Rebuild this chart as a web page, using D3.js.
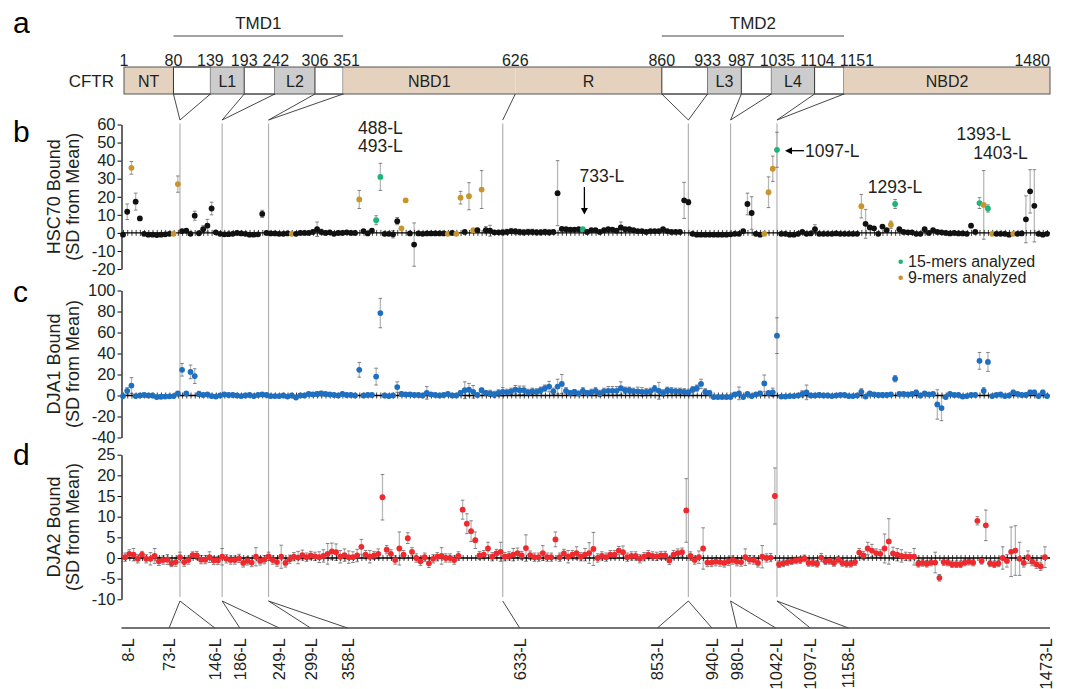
<!DOCTYPE html>
<html>
<head>
<meta charset="utf-8">
<script src="https://cdn.jsdelivr.net/npm/d3@7"></script>
<style>
  body { margin: 0; background: #fff; }
  svg { font-family: "Liberation Sans", Arial, sans-serif; }
</style>
</head>
<body>
<svg id="chart" width="1084" height="689"></svg>
<script>
// ---------- CFTR domain map ----------
const boundaries = [1, 80, 139, 193, 242, 306, 351, 626, 860, 933, 987, 1035, 1104, 1151, 1480];
const domainNames = ["NT", "", "L1", "", "L2", "", "NBD1", "R", "", "L3", "", "L4", "", "NBD2"];
const domainKinds = ["cyto", "tm", "loop", "tm", "loop", "tm", "cyto", "cyto", "tm", "loop", "tm", "loop", "tm", "cyto"];
const tmdNames = ["TMD1", "TMD2"];
const tmdSpans = [[80, 351], [860, 1151]];

// peptide index where each domain boundary falls in the peptide scans
const sepIdx = [13.5, 23.5, 34.5, 90, 134, 144, 155];
const topLinks = [[80, 139], [193, 242], [306, 351], [626], [860, 933], [987, 1035], [1104, 1151]];
const bottomPeptides = [8, 73, 146, 186, 249, 299, 358, 633, 853, 940, 980, 1042, 1097, 1158, 1473];
const bottomLinks = [[73, 146], [186, 249], [299, 358], [633], [853, 940], [980, 1042], [1097, 1158]];

// ---------- HSC70 (panel b) ----------
const hsc70 = [
  -1, 11.7, 36, 17.3, 8, -0.5, -1, -1, -1.2, -1, -0.8, -0.5, -0.5, 27, 1, 1.3, -0.5, 9.5, -0.2, 2,
  4, 13.5, 0.3, -0.5, -0.8, -0.7, -0.5, 0, -0.3, -0.5, -1, -1, -0.8, 10.5, 0, -0.3, -0.3, -0.5, -0.5, -0.3,
  -0.5, -0.5, 0, 0, 0, 0.5, 2, 0.5, 0, 0.3, -0.5, 0, 0, 0.3, 0, 0, 18.5, 1, -0.3, 1.2,
  7, 31, -0.5, -0.5, -0.8, 6.5, 2.5, 18, -0.3, -6.5, -0.3, -0.5, -0.3, -0.3, -0.3, -0.3, -0.3, -0.5, 0, -0.5,
  19.5, 0.5, 20.3, 1.5, 1.5, 24, 1.5, 1.2, 0.3, 0.3, 0.3, 0.5, 1, 0.8, 0.5, 0.3, 0.5, 0.5, 0.3, 0.3,
  0.5, 0.3, 0.5, 22, 2.2, 2, 1.8, 1.8, 2, 2, 0.5, 1.5, 1.5, 0.5, 1.5, 2, 1.8, 1.2, 3, 2,
  2, 1.5, 1, 1, 0.5, 1, 1, 1, 2, 1, 0.5, 0.5, 0.5, 18, 17, -0.5, -1, -1, -1, -1,
  -1, -1, -1, -1, -0.8, -0.5, -0.5, 1, 16, 11, -0.5, -1, -0.5, 22.5, 35.5, 46, -0.5, -0.5, -1, -1,
  -0.5, 0.5, -0.5, -0.3, 2, -0.5, -0.5, -0.5, -0.5, -0.3, -0.5, -0.5, -0.5, -0.5, -0.5, 14.8, 5, 3, 2.5, -0.5,
  3.5, 1.5, 4.5, 16, 2, 0.5, 0.3, 0.3, -0.5, -0.5, 2, 0, 1.5, 0.5, 0.3, 0, -0.3, 0, -0.3, -0.3,
  -0.5, 4, 0.5, 16.5, 15.5, 13.5, -0.5, -0.5, -0.5, -0.5, -1, -0.5, -0.5, -0.3, 7.5, 23, 15, -0.5, -1, -0.5
];
const hsc70Err = [
  0.8, 4.3, 3.5, 4.7, 1, 0.8, 0.8, 0.8, 0.8, 0.8, 0.8, 0.8, 0.8, 4.5, 0.8, 0.8, 0.8, 2.5, 0.8, 2,
  3.5, 3.5, 0.8, 0.8, 0.8, 0.8, 0.8, 0.8, 0.8, 0.8, 0.8, 0.8, 0.8, 2, 0.8, 0.8, 0.8, 0.8, 0.8, 0.8,
  0.8, 0.8, 0.8, 0.8, 0.8, 1, 4, 1.5, 1, 0.8, 0.8, 1, 1, 0.8, 0.8, 1, 5, 0.8, 0.8, 1,
  2.5, 7.5, 0.8, 0.8, 2, 2, 0.8, 1, 0.8, 12, 0.8, 0.8, 0.8, 0.8, 0.8, 0.8, 0.8, 0.8, 0.8, 0.8,
  3.5, 0.8, 7.5, 0.8, 0.8, 10.5, 2, 3, 1, 1, 1.5, 1.5, 1.5, 1.5, 1.5, 1.5, 1.5, 1.5, 1.5, 1.5,
  1.5, 1.5, 1, 18, 0.8, 0.8, 0.8, 0.8, 0.8, 0.8, 0.8, 0.8, 0.8, 0.8, 0.8, 0.8, 0.8, 0.8, 3, 0.8,
  0.8, 0.8, 0.8, 0.8, 0.8, 0.8, 0.8, 0.8, 1, 0.8, 0.8, 0.8, 0.8, 10, 1.5, 0.8, 0.8, 0.8, 0.8, 0.8,
  0.8, 0.8, 0.8, 0.8, 0.8, 0.8, 0.8, 0.8, 6, 9, 0.8, 0.8, 0.8, 8.5, 7, 9.7, 0.8, 0.8, 0.8, 0.8,
  0.8, 0.8, 0.8, 0.8, 2.5, 0.8, 0.8, 0.8, 0.8, 0.8, 0.8, 0.8, 0.8, 0.8, 0.8, 6.5, 8, 1, 1, 0.8,
  1, 0.8, 2, 2.5, 0.8, 0.8, 0.8, 0.8, 0.8, 0.8, 0.8, 0.8, 0.8, 0.8, 0.8, 0.8, 0.8, 0.8, 0.8, 0.8,
  0.8, 1, 0.8, 3, 19, 2, 0.8, 0.8, 0.8, 0.8, 0.8, 0.8, 0.8, 0.8, 13, 12, 20, 0.8, 0.8, 0.8
];
const green15 = [60, 61, 109, 155, 183, 203, 205];
const gold9 = [2, 12, 13, 40, 56, 66, 67, 77, 79, 80, 82, 83, 85, 152, 153, 154, 175, 182, 204, 206, 211];

// ---------- DJA1 (panel c) ----------
const dja1 = [
  -0.5, 4.5, 9.5, -0.5, 0, 0.5, 0, 0, -1.5, -1.2, -1, -0.8, -0.5, 2, 24.5, 2, 22.5, 18.5, 1.5, 0.5,
  1, -0.5, -1, 0, 1, 0.5, 0.5, 0, -0.5, 0, 0.5, -0.5, 0.5, 1, 0.5, -0.5, -0.5, -0.5, 0, -1,
  0, -2, 0, 0, 1.5, 1, 1.5, 2, 1.5, 1, 0.5, 0, 1.5, 0.5, 0.5, 0, 24.5, 0, 0.5, 0.5,
  18, 78.5, 0, -0.5, 0, 8, 1.5, 1, 1, 0.5, 0.5, 0, 2.5, 1, 0.5, 0, 0.5, 1.5, 0, 0,
  2.5, 5, 5.5, 3.5, 0.5, 5, 2.5, 2, 1, 2.5, 3.5, 3, 4, 5.5, 5, 5, 3, 4, 3.5, 5,
  7, 8.5, 4, 8.5, 11, 4.5, 2.5, 3.5, 2, 4.5, 2.5, 3, 4.5, 2, 4, 4.5, 4.5, 4.5, 7, 5,
  5, 4, 4, 3.5, 3.5, 4, 6.5, 4.5, 2.5, 5, 4.5, 4, 4, 3.5, 3, 5.5, 7, 11, 3.5, 2.5,
  -1.5, -1.5, -1.5, -1.5, -1.5, 1, 2, -1.5, 1.5, -0.5, 1, 2, 11.5, 2.5, 3, 57, -1, -1, -0.5, -0.5,
  0, 1.5, 3, 0, 0, 0.5, 0, 0, -0.5, 0, 0.5, 0.5, -0.5, -0.5, 0, 3.5, -1, 2, 1, 0.5,
  0.5, 0.5, 1, 16, 1.5, 1.5, 1, 1.5, 3, 0, 2, 1, 1.5, -8.5, -12, -1.5, 1.5, 0.5, 0.5, -1,
  -0.5, 0.5, 0.5, 33, 4.5, 32, -0.5, 0.5, 1, -0.5, 0, 3, 1.5, 0.5, 0.5, 3, 3, -0.5, 3, -0.5
];
const dja1Err = [
  1, 3, 7.5, 1.5, 1.5, 1.5, 1.5, 1.5, 1.5, 1.5, 1.5, 1.5, 1.5, 1.5, 6, 1.5, 6.5, 7, 2.5, 1.5,
  1.5, 1.5, 1.5, 1.5, 1.5, 1.5, 1.5, 1.5, 1.5, 1.5, 1.5, 1.5, 1.5, 1.5, 1.5, 1.5, 1.5, 1.5, 1.5, 1.5,
  1.5, 1.5, 1.5, 1.5, 1.5, 1.5, 2, 2, 1.5, 1.5, 1.5, 1.5, 1.5, 1.5, 1.5, 1.5, 7, 1.5, 1.5, 1.5,
  8, 14, 1.5, 1.5, 1.5, 5, 2, 1.5, 1.5, 1.5, 1.5, 1.5, 6, 1.5, 1.5, 1.5, 1.5, 1.5, 1.5, 1.5,
  2, 8, 6, 6, 1.5, 2, 2, 3, 3, 3, 4, 3, 3, 4, 4, 4, 3, 3, 3, 3,
  3, 5, 3, 7, 9, 3, 2, 2, 2, 3, 2, 3, 3, 3, 3, 4, 4, 4, 6, 3,
  3, 3, 4, 4, 3, 3, 3, 8, 3, 3, 3, 3, 3, 3, 3, 3, 3, 4.5, 3, 2,
  1, 1, 1, 1, 1, 1.5, 6, 1, 1.5, 1.5, 1.5, 2, 8, 1.5, 4, 17, 1, 1, 1, 1,
  1, 3, 7, 1, 1, 2, 1, 1, 1, 1, 1, 1, 1, 1, 1, 3, 1.5, 1.5, 1.5, 1.5,
  2, 1.5, 1.5, 3, 1.5, 1.5, 1.5, 1.5, 2, 1.5, 1.5, 1.5, 1.5, 14, 12, 1.5, 1.5, 1.5, 1.5, 1.5,
  1.5, 1.5, 1.5, 8, 3, 9, 1.5, 1.5, 1.5, 1.5, 1.5, 2, 1.5, 1.5, 1.5, 2, 2, 1.5, 2, 1.5
];

// ---------- DJA2 (panel d) ----------
const dja2 = [
  0.2, 1, 0.8, -0.2, 0.8, -0.2, -0.2, 0.5, -0.8, -0.5, -0.4, -1.3, -1, 0.2, -1, -0.5, 0.7, 0.6, -0.4, -0.4,
  0.2, -0.6, -0.6, 0.3, -0.2, -0.5, -0.5, -0.1, -1.2, -0.7, -1.1, 0.3, -0.7, -0.4, 0.4, -0.5, -1, 0.3, -1.2, -0.3,
  0.3, 0.1, 0.7, 0.2, 0.6, 0.4, 0.2, 0.5, 1, 1.6, 1.4, 0.3, 0.7, 0.2, 0.2, 0.6, 2.7, 0.8, 0.3, 0.6,
  1, 14.7, 2, 1, -0.5, 2.3, 0.8, 4.8, 1.5, 0, -0.8, 0.2, -1.3, -0.2, 0.3, 0.5, 0, 0, -0.5, 0.5,
  11.7, 8.3, 6.5, 4.3, 0.6, 0.8, 2.3, 0.3, 1.1, 1.5, 0.3, 0.5, 0.8, 1.2, 0.6, 2.4, 0.7, 0.2, 0.2, 1.2,
  0.2, 0.2, 4.5, 0.2, 1.1, 0.3, 0.8, 1.2, 0.3, 0.8, 1.2, 2.2, 0, 0.5, 0.2, 0.8, 0.8, 1.8, 1.4, 0.2,
  0.5, 0.5, -0.2, 0.3, 0.8, 0.5, 0.4, 0.6, 0.6, -0.6, 0.8, 1.2, 1.4, 11.5, 0.5, -0.5, 0.2, 2.3, -1.1, -1.1,
  -0.9, -1, -1.2, -0.8, -0.5, -0.9, -1, 0.2, -0.4, -0.5, -1.2, 0.3, 0, 0.1, 15, -1.5, -1.3, -1, -0.8, -0.6,
  -0.5, -0.1, -1.2, -1.2, -1.4, 0.1, -0.8, -0.7, -1.2, -0.4, -1.2, -1.4, -1.4, -1, 1.3, 0.6, 2.3, 1.8, 1.2, 1,
  2.3, 4, 1.1, 0.8, 0.5, 0.4, 0.3, 0.3, -1.4, -1.2, -1.4, -1.1, -1.1, -4.8, -1, -1.1, -1.5, -1.5, -1.5, -1.1,
  -0.9, -1.1, 9, -0.7, 7.9, -1.3, -1.5, -1.3, 0, -0.7, 1.5, 1.8, -0.2, -1.2, 0.2, -0.9, -1.5, -2, 0.2
];
const dja2Err = [
  1, 1, 1.5, 1, 0.8, 1, 1.5, 1.8, 1, 1, 1.2, 0.8, 1, 1.2, 1, 1, 0.8, 1, 1, 1,
  1.3, 1, 1, 2, 1, 1, 1, 1, 1, 1, 1, 2.2, 1, 1, 1, 1, 1, 2.8, 1, 1,
  1, 1.5, 1.2, 1, 1, 1, 1.3, 1.5, 2.5, 2, 2, 1.5, 1.5, 1.5, 1.3, 1.5, 1.8, 1, 1.5, 1,
  1.2, 5.5, 1, 1, 1, 4, 1, 1.3, 1, 1, 1, 1, 1, 1, 1, 2, 1, 1, 1, 1,
  2.3, 2.4, 2.5, 2, 1, 1, 1.5, 1, 1, 2.3, 1, 1, 1.5, 1.2, 1, 3.2, 1, 1, 1, 1.8,
  1, 1, 1.8, 1, 1, 1.5, 1, 1.5, 1, 1.5, 2.5, 4, 1, 1, 1, 1, 1, 1, 1.5, 1,
  1, 1, 1, 1, 1, 1, 1, 1, 1, 1, 1, 1, 1, 7.7, 1, 1, 1.5, 5, 1, 1,
  1, 1, 1, 1, 1, 1, 1, 2, 1, 1, 1, 2.7, 1, 1, 6.8, 0.8, 0.8, 0.8, 0.8, 0.8,
  0.8, 0.8, 0.8, 0.8, 0.8, 1, 0.8, 0.8, 0.8, 0.8, 0.8, 0.8, 0.8, 0.8, 1, 1, 1.5, 1.5, 1, 1,
  3.5, 5.5, 1.5, 1.5, 1.5, 1, 1, 2, 0.8, 0.8, 0.8, 0.8, 2.5, 0.8, 0.8, 0.8, 0.8, 0.8, 0.8, 0.8,
  0.8, 0.8, 1, 0.8, 3.7, 0.8, 0.8, 0.8, 2.7, 1.5, 6, 6, 4, 1, 1.5, 1, 1, 1, 2.5
];

// ---------- layout ----------
const svg = d3.select("#chart");
const ink = "#231f20";
const axisX = 121.5, axisRight = 1050;
const barTop = 67, barBottom = 94;
const sepTop = 123.5, sepBottom = 597;

const x = d3.scaleLinear().domain([0, hsc70.length - 1]).range([123, 1047]);
const xd = d3.scaleLinear().domain([-0.5, dja2.length - 0.5]).range([123, 1047]);
const xRes = d3.scaleLinear().domain([1, 1480]).range([124, 1050]);

const yB = d3.scaleLinear().domain([-20, 60]).range([269, 124.5]);
const yC = d3.scaleLinear().domain([-40, 100]).range([437.5, 290.5]);
const yD = d3.scaleLinear().domain([-10, 25]).range([599.3, 454.7]);

const colKind = { cyto: "#e5d2be", loop: "#cccccc", tm: "#ffffff" };

// panel letters
[["a", 33], ["b", 142], ["c", 302], ["d", 465]].forEach(([t, yy]) => {
  svg.append("text").attr("x", 13).attr("y", yy).attr("font-size", 30)
    .attr("fill", "#000").text(t);
});

// ---------- top domain bar ----------
const segs = domainNames.map((n, i) => ({ name: n, kind: domainKinds[i], start: boundaries[i], end: boundaries[i + 1] }));
const bar = svg.append("g");
bar.selectAll("rect").data(segs).join("rect")
  .attr("x", d => xRes(d.start)).attr("y", barTop)
  .attr("width", d => xRes(d.end) - xRes(d.start)).attr("height", barBottom - barTop)
  .attr("fill", d => colKind[d.kind])
  .attr("stroke", d => d.kind === "tm" ? "#333" : "none").attr("stroke-width", 1);
bar.append("rect").attr("x", xRes(1)).attr("y", barTop)
  .attr("width", xRes(1480) - xRes(1)).attr("height", barBottom - barTop)
  .attr("fill", "none").attr("stroke", "#555").attr("stroke-width", 1);
bar.selectAll("text.dom").data(segs.filter(d => d.name)).join("text")
  .attr("class", "dom").attr("x", d => xRes((d.start + d.end) / 2)).attr("y", 86.5)
  .attr("text-anchor", "middle").attr("font-size", 16).attr("fill", ink).text(d => d.name);
bar.append("text").attr("x", 114).attr("y", 87).attr("text-anchor", "end")
  .attr("font-size", 17).attr("fill", ink).text("CFTR");

// boundary numbers, nudged apart so they don't collide
const numG = bar.append("g");
const nums = numG.selectAll("text").data(boundaries).join("text")
  .attr("y", 65.5).attr("font-size", 16).attr("fill", ink)
  .attr("text-anchor", (d, i) => i === boundaries.length - 1 ? "end" : "middle")
  .attr("x", d => xRes(d)).text(d => d);
let prevRight = -Infinity;
nums.each(function (d, i) {
  if (i === boundaries.length - 1) return;
  const w = this.getComputedTextLength();
  let cx = xRes(d);
  if (cx - w / 2 < prevRight + 5) cx = prevRight + 5 + w / 2;
  d3.select(this).attr("x", cx);
  prevRight = cx + w / 2;
});

// TMD brackets
tmdNames.forEach((n, i) => {
  const [a, b] = tmdSpans[i];
  svg.append("line").attr("x1", xRes(a)).attr("x2", xRes(b)).attr("y1", 36).attr("y2", 36)
    .attr("stroke", "#444").attr("stroke-width", 1);
  svg.append("text").attr("x", (xRes(a) + xRes(b)) / 2).attr("y", 29).attr("text-anchor", "middle")
    .attr("font-size", 17).attr("fill", ink).text(n);
});

// ---------- separators and connector lines ----------
const links = svg.append("g").attr("stroke", "#333").attr("stroke-width", 0.9);
topLinks.forEach((res, k) => res.forEach(r => {
  links.append("line").attr("x1", xRes(r)).attr("y1", barBottom)
    .attr("x2", x(sepIdx[k])).attr("y2", 120);
}));
const bottomLine = 628;
bottomLinks.forEach((res, k) => res.forEach(r => {
  links.append("line").attr("x1", x(sepIdx[k])).attr("y1", 601)
    .attr("x2", xRes(r)).attr("y2", bottomLine);
}));
svg.append("line").attr("x1", axisX).attr("x2", axisRight).attr("y1", bottomLine).attr("y2", bottomLine)
  .attr("stroke", "#444").attr("stroke-width", 1.4);
svg.append("g").selectAll("text").data(bottomPeptides).join("text")
  .attr("transform", d => `translate(${xRes(d) + 6},${bottomLine + 10}) rotate(-90)`)
  .attr("text-anchor", "end").attr("font-size", 16.5).attr("fill", ink)
  .text(d => d + "-L");

svg.append("g").selectAll("line").data(sepIdx).join("line")
  .attr("x1", d => x(d)).attr("x2", d => x(d)).attr("y1", sepTop).attr("y2", sepBottom)
  .attr("stroke", "#b3b3b3").attr("stroke-width", 1.2);

// ---------- panels ----------
function panel(values, errs, xs, y, ticks, colorOf, label) {
  const g = svg.append("g");
  const cy = (y.range()[0] + y.range()[1]) / 2;

  // error bars
  const eb = g.append("g");
  eb.selectAll("line.bar").data(values).join("line").attr("class", "bar")
    .attr("x1", (d, i) => xs(i)).attr("x2", (d, i) => xs(i))
    .attr("y1", (d, i) => y(d + errs[i])).attr("y2", (d, i) => y(d - errs[i]))
    .attr("stroke", "#b8b8b8").attr("stroke-width", 1.3);
  ["up", "dn"].forEach(side => {
    eb.selectAll("line.cap" + side).data(values).join("line").attr("class", "cap" + side)
      .attr("x1", (d, i) => xs(i) - 1.8).attr("x2", (d, i) => xs(i) + 1.8)
      .attr("y1", (d, i) => y(side === "up" ? d + errs[i] : d - errs[i]))
      .attr("y2", (d, i) => y(side === "up" ? d + errs[i] : d - errs[i]))
      .attr("stroke", "#666").attr("stroke-width", 0.8);
  });

  // x axis with a tick for every peptide
  const xa = g.append("g").attr("transform", `translate(0,${y(0)})`)
    .call(d3.axisBottom(xs).tickValues(d3.range(values.length)).tickSize(6).tickFormat(""));
  xa.select(".domain").remove();
  xa.selectAll(".tick line").attr("y1", -3).attr("y2", 3).attr("stroke", "#111").attr("stroke-width", 0.8);
  xa.append("line").attr("x1", axisX).attr("x2", axisRight).attr("stroke", "#000").attr("stroke-width", 1.3);

  // y axis
  const ya = g.append("g").attr("transform", `translate(${axisX},0)`)
    .call(d3.axisLeft(y).tickValues(ticks).tickSize(4).tickSizeOuter(0).tickFormat(d => String(d)));
  ya.select(".domain").attr("stroke", "#000").attr("stroke-width", 1.2);
  ya.selectAll(".tick line").attr("stroke", "#000");
  ya.selectAll(".tick text").attr("font-size", 16.5).attr("fill", ink)
    .attr("font-family", "'Liberation Sans', Arial, sans-serif").attr("x", -6);

  // points
  g.append("g").selectAll("circle").data(values).join("circle")
    .attr("cx", (d, i) => xs(i)).attr("cy", d => y(d)).attr("r", 2.9)
    .attr("fill", (d, i) => colorOf(i));

  // axis title
  const t = g.append("g").attr("transform", `translate(60,${cy}) rotate(-90)`)
    .attr("text-anchor", "middle").attr("font-size", 18).attr("fill", ink);
  t.append("text").attr("y", 0).text(label);
  t.append("text").attr("y", 18.5).text("(SD from Mean)");
  return g;
}

const green = "#1fb47a", gold = "#c8952c", black = "#111111";
const gB = panel(hsc70, hsc70Err, x, yB, d3.range(-20, 61, 10),
  i => green15.includes(i) ? green : gold9.includes(i) ? gold : black, "HSC70 Bound");
panel(dja1, dja1Err, x, yC, d3.range(-40, 101, 20), () => "#1f6fc1", "DJA1 Bound");
panel(dja2, dja2Err, xd, yD, d3.range(-10, 26, 5), () => "#ee2a2f", "DJA2 Bound");

// ---------- panel b annotations ----------
const notes = [
  { text: "488-L", i: 61, v: 55 },
  { text: "493-L", i: 61, v: 44.8 },
  { text: "1293-L", i: 183, v: 22.3 },
  { text: "1393-L", i: 204, v: 51.6 },
  { text: "1403-L", i: 208, v: 40.9 },
  { text: "733-L", i: 113.5, v: 27.9 }
];
gB.append("g").selectAll("text").data(notes).join("text")
  .attr("x", d => x(d.i)).attr("y", d => yB(d.v)).attr("text-anchor", "middle")
  .attr("font-size", 17.5).attr("fill", ink).text(d => d.text);

// 733-L arrow (down)
const ax733 = x(109) + 1.5;
gB.append("line").attr("x1", ax733).attr("x2", ax733).attr("y1", yB(25.4)).attr("y2", yB(12.5))
  .attr("stroke", "#000").attr("stroke-width", 1.3);
gB.append("path").attr("fill", "#000")
  .attr("d", `M${ax733 - 3.5},${yB(13.8)} L${ax733 + 3.5},${yB(13.8)} L${ax733},${yB(10.2)} Z`);

// 1097-L arrow (left)
const ay1097 = yB(45.5), tip = x(155) + 8;
gB.append("line").attr("x1", tip + 3).attr("x2", x(155) + 27).attr("y1", ay1097).attr("y2", ay1097)
  .attr("stroke", "#000").attr("stroke-width", 1.3);
gB.append("path").attr("fill", "#000")
  .attr("d", `M${tip + 7},${ay1097 - 3.5} L${tip + 7},${ay1097 + 3.5} L${tip},${ay1097} Z`);
gB.append("text").attr("x", x(155) + 28).attr("y", yB(42)).attr("font-size", 17.5)
  .attr("fill", ink).text("1097-L");

// legend
const legend = gB.append("g");
[["15-mers analyzed", green], ["9-mers analyzed", gold]].forEach(([t, c], k) => {
  legend.append("circle").attr("cx", 900.7).attr("cy", 261.7 + k * 16).attr("r", 2.3).attr("fill", c);
  legend.append("text").attr("x", 908).attr("y", 266.5 + k * 16).attr("font-size", 16)
    .attr("fill", ink).text(t);
});
</script>
</body>
</html>
